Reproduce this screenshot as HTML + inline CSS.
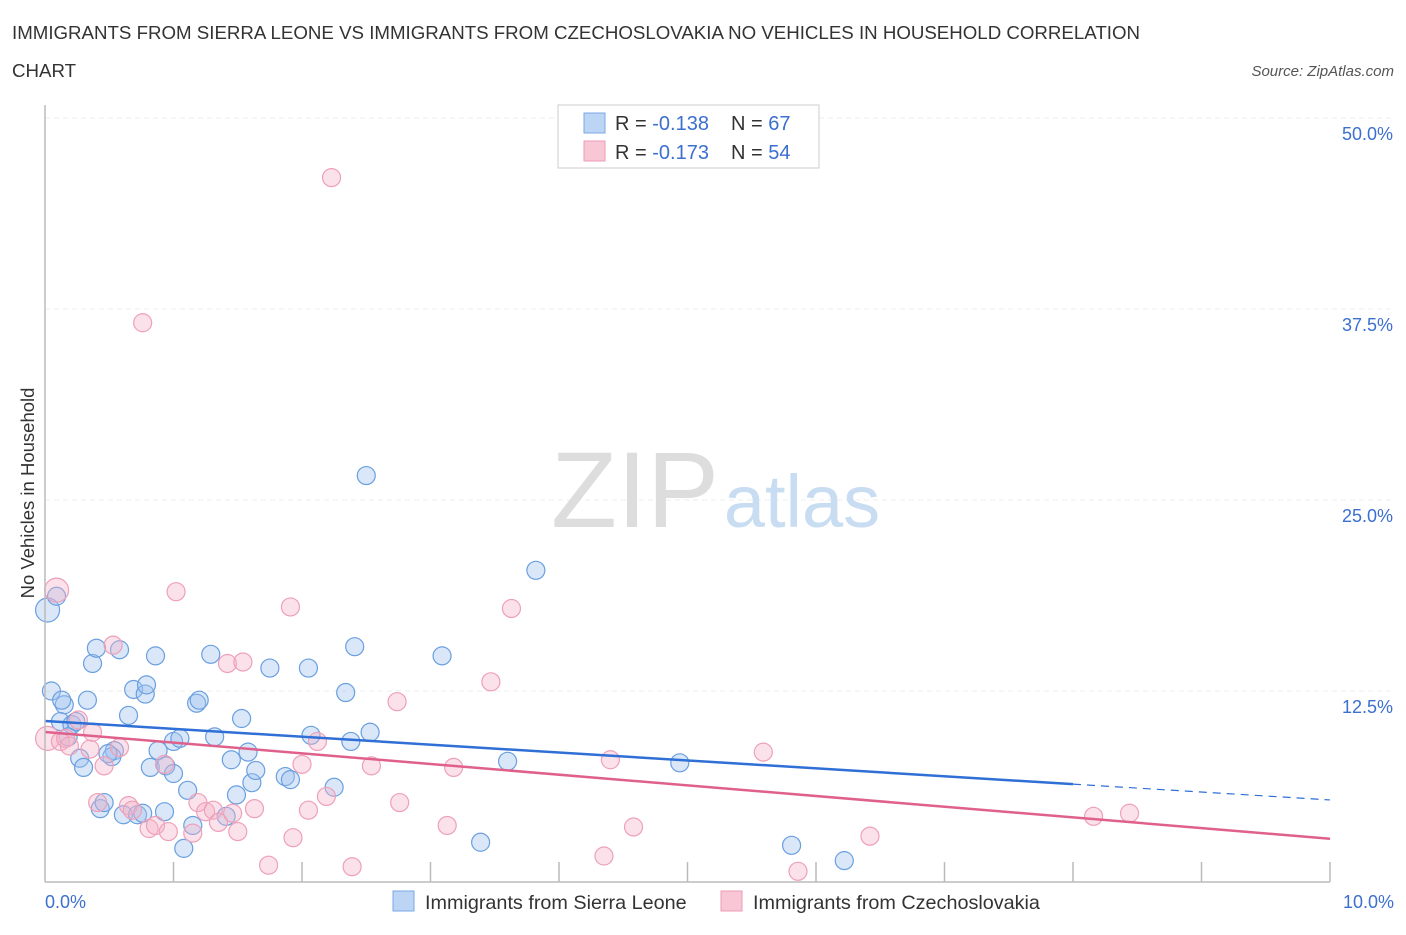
<!DOCTYPE html>
<html><head><meta charset="utf-8"><style>
body{margin:0;background:#fff;font-family:"Liberation Sans",sans-serif;}
svg text{font-family:"Liberation Sans",sans-serif;}
</style></head><body>
<svg id="chart" width="1406" height="930">
<text x="12" y="39" font-size="18.7" fill="#333">IMMIGRANTS FROM SIERRA LEONE VS IMMIGRANTS FROM CZECHOSLOVAKIA NO VEHICLES IN HOUSEHOLD CORRELATION</text>
<text x="12" y="77" font-size="18.7" fill="#333">CHART</text>
<text x="1394" y="76" font-size="15" fill="#555" font-style="italic" text-anchor="end">Source: ZipAtlas.com</text>
<g id="grid"></g>
<text x="635" y="527" font-size="108" fill="#ddd" font-family="Liberation Serif" text-anchor="middle">ZIP</text>
<text x="802" y="527" font-size="74" fill="#c8dcf2" text-anchor="middle">atlas</text>
<g id="pts"></g>
<g id="lines"></g>
<line x1="45" y1="105" x2="45" y2="882" stroke="#bbb" stroke-width="1.5"/>
<line x1="45" y1="882" x2="1330" y2="882" stroke="#bbb" stroke-width="1.5"/>
<text x="34" y="493" font-size="18.5" fill="#333" text-anchor="middle" transform="rotate(-90 34 493)">No Vehicles in Household</text>
<text x="45" y="908" font-size="18" fill="#3b6fd0">0.0%</text>
<text x="1394" y="908" font-size="18" fill="#3b6fd0" text-anchor="end">10.0%</text>
<g>
<rect x="558" y="105" width="261" height="63" fill="#fff" stroke="#ccc"/>
<rect x="584" y="113" width="21" height="20" fill="#bcd5f5" stroke="#7aa7e6"/>
<rect x="584" y="141" width="21" height="20" fill="#f9c6d6" stroke="#ee9bb5"/>
<text x="615" y="130" font-size="20" fill="#333">R = <tspan fill="#3b6fd0">-0.138</tspan><tspan x="731">N = </tspan><tspan fill="#3b6fd0">67</tspan></text>
<text x="615" y="159" font-size="20" fill="#333">R = <tspan fill="#3b6fd0">-0.173</tspan><tspan x="731">N = </tspan><tspan fill="#3b6fd0">54</tspan></text>
</g>
<g>
<rect x="393" y="891" width="21" height="20" fill="#bcd5f5" stroke="#7aa7e6"/>
<text x="425" y="909" font-size="19.8" fill="#333">Immigrants from Sierra Leone</text>
<rect x="721" y="891" width="21" height="20" fill="#f9c6d6" stroke="#ee9bb5"/>
<text x="753" y="909" font-size="19.8" fill="#333">Immigrants from Czechoslovakia</text>
</g>
</svg>
<script>
const blueX=[0.02,0.09,0.05,0.15,0.12,0.21,0.24,0.18,0.27,0.30,0.33,0.37,0.40,0.58,0.54,0.52,0.43,0.46,0.61,0.65,0.69,0.78,0.79,0.72,0.76,0.86,0.88,0.82,0.94,1.00,0.93,1.05,1.00,1.11,1.08,1.15,1.18,1.20,1.29,1.32,1.41,1.45,1.49,1.53,1.58,1.61,1.64,1.75,1.87,1.91,2.05,2.07,2.25,2.34,2.38,2.41,2.53,2.50,3.09,3.39,3.60,3.82,4.94,5.81,6.22,0.13,0.49];
const blueY=[17.8,18.7,12.5,11.6,10.5,10.3,10.5,9.5,8.1,7.5,11.9,14.3,15.3,15.2,8.6,8.2,4.8,5.2,4.4,10.9,12.6,12.3,12.9,4.4,4.5,14.8,8.6,7.5,7.6,9.2,4.6,9.4,7.1,6.0,2.2,3.7,11.7,11.9,14.9,9.5,4.3,8.0,5.7,10.7,8.5,6.5,7.3,14.0,6.9,6.7,14.0,9.6,6.2,12.4,9.2,15.4,9.8,26.6,14.8,2.6,7.9,20.4,7.8,2.4,1.4,11.9,8.4];
const pinkX=[0.09,0.02,0.12,0.16,0.19,0.26,0.35,0.37,0.46,0.53,0.58,0.41,0.65,0.68,0.81,0.86,0.96,0.93,1.02,1.15,1.19,1.25,1.31,1.35,1.46,1.50,1.42,1.54,1.63,1.74,1.91,1.93,2.00,2.05,2.12,2.19,2.23,2.39,2.54,2.74,2.76,3.13,3.18,3.47,3.63,4.35,4.40,4.58,5.59,5.86,6.42,8.16,8.44,0.76];
const pinkY=[19.1,9.4,9.2,9.4,8.9,10.6,8.7,9.8,7.6,15.5,8.8,5.2,5.0,4.7,3.5,3.7,3.3,7.7,19.0,3.2,5.2,4.6,4.7,3.9,4.5,3.3,14.3,14.4,4.8,1.1,18.0,2.9,7.7,4.7,9.2,5.6,46.1,1.0,7.6,11.8,5.2,3.7,7.5,13.1,17.9,1.7,8.0,3.6,8.5,0.7,3.0,4.3,4.5,36.6];
const yTicks=[12.5,25,37.5,50];
const yTickLabels=["12.5%","25.0%","37.5%","50.0%"];
const xTicks=[1,2,3,4,5,6,7,8,9,10];
const blueTrend=[10.54,5.37];
const pinkTrend=[9.82,2.83];
const blueSolidEnd=8.0;
const NS='http://www.w3.org/2000/svg';
const sx=v=>45+v*128.5, sy=v=>882-v*15.28;
function mk(tag,attrs,parent){const e=document.createElementNS(NS,tag);for(const k in attrs)e.setAttribute(k,attrs[k]);parent.appendChild(e);return e;}
const grid=document.getElementById('grid');
yTicks.forEach((t,i)=>{
 const l=mk('line',{x1:45,x2:1394,y1:sy(t),y2:sy(t),stroke:'#ececec','stroke-dasharray':'5,4'},grid);
 
 
 const tx=mk('text',{x:1393,y:sy(t)+22,'font-size':18,fill:'#3b6fd0','text-anchor':'end'},grid);
 tx.textContent=yTickLabels[i];
 
 
});
xTicks.forEach(t=>{
 const l=mk('line',{x1:sx(t),x2:sx(t),y1:862,y2:882,stroke:'#bbb','stroke-width':1.5},grid);
 
 
});
const pts=document.getElementById('pts');
blueX.forEach((x,i)=>{
 const r=(i<1)?12:9;
 const c=mk('circle',{cx:sx(x),cy:sy(blueY[i]),r:r,fill:'rgba(160,196,240,0.4)',stroke:'#6a9fe0','stroke-width':1.2},pts);
 
 
});
pinkX.forEach((x,i)=>{
 const r=(i<2)?12:9;
 const c=mk('circle',{cx:sx(x),cy:sy(pinkY[i]),r:r,fill:'rgba(245,180,200,0.38)',stroke:'#eea0b8','stroke-width':1.2},pts);
 
 
});
const lines=document.getElementById('lines');
const by=x=>blueTrend[0]+(blueTrend[1]-blueTrend[0])*x/10;
let l1=mk('line',{x1:sx(0),y1:sy(blueTrend[0]),x2:sx(blueSolidEnd),y2:sy(by(blueSolidEnd)),stroke:'#2f6fd6','stroke-width':2.5},lines);


let l2=mk('line',{x1:sx(blueSolidEnd),y1:sy(by(blueSolidEnd)),x2:sx(10),y2:sy(blueTrend[1]),stroke:'#2f6fd6','stroke-width':1.2,'stroke-dasharray':'8,6'},lines);


let l3=mk('line',{x1:sx(0),y1:sy(pinkTrend[0]),x2:sx(10),y2:sy(pinkTrend[1]),stroke:'#e0608c','stroke-width':2.5},lines);


</script>
</body></html>
